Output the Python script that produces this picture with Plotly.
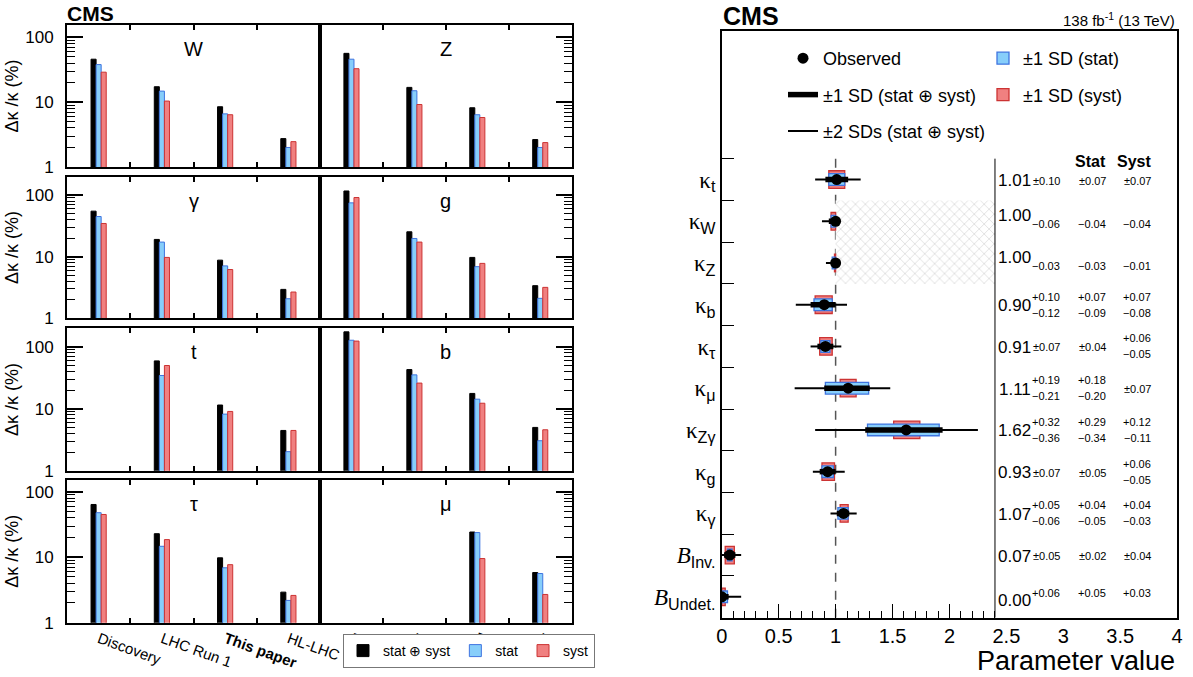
import plotly.graph_objects as go

FIG_W, FIG_H = 1193, 677
FONT = "Liberation Sans"

# ---------------- left figure: precision of coupling modifiers (%) ----------------
ERAS = ["Discovery", "LHC Run 1", "<b>This paper</b>", "HL-LHC"]
PANELS = ["W", "Z", "γ", "g", "t", "b", "τ", "μ"]

W_tot = [46.0, 17.3, 8.5, 2.74]
W_stat = [38.0, 14.8, 6.6, 2.00]
W_syst = [29.0, 10.4, 6.4, 2.46]
Z_tot = [56.6, 16.9, 8.2, 2.65]
Z_stat = [46.0, 15.0, 6.4, 2.00]
Z_syst = [32.8, 9.2, 5.8, 2.38]
gam_tot = [55.0, 19.1, 8.8, 2.95]
gam_stat = [45.0, 17.3, 7.1, 2.08]
gam_syst = [34.7, 9.75, 6.2, 2.67]
g_tot = [117.0, 25.4, 9.75, 3.39]
g_stat = [75.0, 19.8, 6.9, 2.11]
g_syst = [91.6, 17.3, 7.8, 3.18]
t_tot = [None, 59.4, 11.5, 4.47]
t_stat = [None, 34.5, 8.2, 2.03]
t_syst = [None, 50.0, 9.06, 4.47]
b_tot = [175.0, 43.0, 17.7, 5.0]
b_stat = [128.0, 35.3, 14.3, 3.05]
b_syst = [124.0, 26.0, 12.3, 4.58]
tau_tot = [64.0, 22.9, 9.8, 2.93]
tau_stat = [47.9, 14.7, 6.9, 2.19]
tau_syst = [45.0, 18.6, 7.7, 2.61]
mu_tot = [None, None, 24.3, 5.84]
mu_stat = [None, None, 23.8, 5.64]
mu_syst = [None, None, 9.55, 2.70]

PANEL_SERIES = [
    (W_tot, W_stat, W_syst), (Z_tot, Z_stat, Z_syst),
    (gam_tot, gam_stat, gam_syst), (g_tot, g_stat, g_syst),
    (t_tot, t_stat, t_syst), (b_tot, b_stat, b_syst),
    (tau_tot, tau_stat, tau_syst), (mu_tot, mu_stat, mu_syst),
]

# ---------------- right figure: fitted parameters ----------------
KAPPA = '<span style="font-family:Liberation Serif">κ</span>'
BSYM = '<span style="font-family:Liberation Serif"><i>B</i></span>'
ROW_LABELS = [
    KAPPA + "<sub>t</sub>", KAPPA + "<sub>W</sub>", KAPPA + "<sub>Z</sub>",
    KAPPA + "<sub>b</sub>", KAPPA + "<sub>τ</sub>", KAPPA + "<sub>μ</sub>",
    KAPPA + "<sub>Zγ</sub>", KAPPA + "<sub>g</sub>", KAPPA + "<sub>γ</sub>",
    BSYM + "<sub>Inv.</sub>", BSYM + "<sub>Undet.</sub>",
]
VALUE = [1.01, 1.00, 1.00, 0.90, 0.91, 1.11, 1.62, 0.93, 1.07, 0.07, 0.00]
TOT_HI = [0.10, None, None, 0.10, 0.07, 0.19, 0.32, 0.07, 0.05, 0.05, 0.06]
TOT_LO = [0.10, 0.06, 0.03, 0.12, 0.07, 0.21, 0.36, 0.07, 0.06, 0.05, None]
STAT_HI = [0.07, None, None, 0.07, 0.04, 0.18, 0.29, 0.05, 0.04, 0.02, 0.05]
STAT_LO = [0.07, 0.04, 0.03, 0.09, 0.04, 0.20, 0.34, 0.05, 0.05, 0.02, None]
SYST_HI = [0.07, None, None, 0.07, 0.06, 0.07, 0.12, 0.06, 0.04, 0.04, 0.03]
SYST_LO = [0.07, 0.04, 0.01, 0.08, 0.05, 0.07, 0.11, 0.05, 0.03, 0.04, None]
TOT2_HI = [0.21, None, None, 0.20, 0.14, 0.37, 0.63, 0.15, 0.115, 0.10, 0.17]
TOT2_LO = [0.19, 0.12, 0.085, 0.25, 0.13, 0.47, 0.80, 0.13, 0.115, 0.07, None]
SM_VALUE = 1.0
CONSTRAINED_ROWS = [1, 2]      # kappa_W, kappa_Z bounded at 1
TABLE_EDGE = 2.4               # where the numeric table starts
X_TICKS = [0, 0.5, 1, 1.5, 2, 2.5, 3, 3.5, 4]


def px_x(p):
    return p / FIG_W


def px_y(p):
    return 1 - p / FIG_H


def z(v):
    return 0.0 if v is None else v


fig = go.Figure()
layout = {}

LEFT_COLS = [(67, 320), (320, 571.7)]
LEFT_ROWS = [(25, 167), (176.7, 318.3), (328.3, 470.7), (480, 622.7)]
ROW_TOP = [2.19, 2.30, 2.30, 2.18]
GROUP_PX = (LEFT_COLS[0][1] - LEFT_COLS[0][0]) / len(ERAS)

KINDS = [
    ("stat ⊕ syst", "#000000", "#000000", -0.12),
    ("stat", "#87cefa", "#3f74e0", -0.04),
    ("syst", "#f08080", "#cc3333", 0.04),
]

for i, (pname, series) in enumerate(zip(PANELS, PANEL_SERIES)):
    r, c = divmod(i, 2)
    k = "" if i == 0 else str(i + 1)
    xa, ya = "x" + k, "y" + k
    for (kname, fill, line, off), vals in zip(KINDS, series):
        fig.add_trace(go.Bar(
            x=list(range(len(ERAS))), y=vals, offset=off, width=0.08,
            marker=dict(color=fill, line=dict(color=line, width=1)),
            name=kname, legendgroup=kname, showlegend=(i == 0), legend="legend",
            xaxis=xa, yaxis=ya, hoverinfo="skip",
        ))
    bottom = (r == 3)
    layout["xaxis" + k] = dict(
        domain=[px_x(LEFT_COLS[c][0]), px_x(LEFT_COLS[c][1])],
        anchor=ya, range=[-0.5, len(ERAS) - 0.5],
        # ticks sit on the group boundaries; labels shifted to the group centres
        tickvals=[j - 0.5 for j in range(len(ERAS))], ticktext=ERAS,
        ticks="inside", ticklen=5, tickwidth=1.5, tickcolor="black",
        ticklabelshift=int(round(GROUP_PX / 2)),
        showticklabels=bottom, tickangle=20,
        tickfont=dict(size=15, family=FONT, color="black"),
        showline=True, linewidth=2, linecolor="black", mirror="ticks",
        showgrid=False, zeroline=False,
    )
    yax = dict(
        domain=[px_y(LEFT_ROWS[r][1]), px_y(LEFT_ROWS[r][0])],
        anchor=xa, type="log", range=[0, ROW_TOP[r]],
        tick0=0, dtick=1, ticks="inside", ticklen=16, tickwidth=1.5, tickcolor="black",
        minor=dict(ticks="inside", ticklen=8, tickwidth=1, tickcolor="black",
                   dtick="D1", showgrid=False),
        side="left" if c == 0 else "right",
        showticklabels=(c == 0), ticklabelstandoff=8,
        tickfont=dict(size=17, family=FONT, color="black"),
        showline=True, linewidth=2, linecolor="black", mirror=True,
        showgrid=False, zeroline=False,
    )
    if c == 0:
        yax["title"] = dict(text="Δκ /κ (%)", standoff=2,
                            font=dict(size=18, family=FONT, color="black"))
    layout["yaxis" + k] = yax
    layout.setdefault("annotations", []).append(dict(
        text=pname, xref=xa + " domain", yref=ya + " domain", x=0.5, y=1,
        yshift=-24, xanchor="center", yanchor="middle", showarrow=False,
        font=dict(size=20, family=FONT, color="black"),
    ))

# ---------------- right figure traces ----------------
N = len(VALUE)
ys = [N - 0.5 - i for i in range(N)]
XR, YR = "x9", "y9"

cy = sum(ys[j] for j in CONSTRAINED_ROWS) / len(CONSTRAINED_ROWS)
fig.add_trace(go.Bar(
    orientation="h", y=[cy], base=[SM_VALUE], x=[TABLE_EDGE - SM_VALUE],
    width=[len(CONSTRAINED_ROWS)],
    marker=dict(color="white", line=dict(width=0),
                pattern=dict(shape="x", fgcolor="#a8a8a8", bgcolor="white",
                             size=7, solidity=0.18)),
    showlegend=False, hoverinfo="skip", xaxis=XR, yaxis=YR,
))

fig.add_trace(go.Bar(
    orientation="h", y=ys,
    base=[v - z(lo) for v, lo in zip(VALUE, SYST_LO)],
    x=[z(lo) + z(hi) for lo, hi in zip(SYST_LO, SYST_HI)],
    width=0.42,
    marker=dict(color="#f08080", line=dict(color="#cc3333", width=1.3)),
    name="±1 SD (syst)", legend="legend3", legendgroup="syst1", legendrank=2,
    hoverinfo="skip", xaxis=XR, yaxis=YR,
))
fig.add_trace(go.Bar(
    orientation="h", y=ys,
    base=[v - z(lo) for v, lo in zip(VALUE, STAT_LO)],
    x=[z(lo) + z(hi) for lo, hi in zip(STAT_LO, STAT_HI)],
    width=0.28,
    marker=dict(color="#87cefa", line=dict(color="#3f74e0", width=1.3)),
    name="±1 SD (stat)", legend="legend3", legendgroup="stat1", legendrank=1,
    hoverinfo="skip", xaxis=XR, yaxis=YR,
))


def segs(lo_list, hi_list):
    xs, yy = [], []
    for v, lo, hi, y in zip(VALUE, lo_list, hi_list, ys):
        xs += [v - z(lo), v + z(hi), None]
        yy += [y, y, None]
    return xs, yy


x2, y2 = segs(TOT2_LO, TOT2_HI)
fig.add_trace(go.Scatter(
    x=x2, y=y2, mode="lines", line=dict(color="black", width=2),
    name="±2 SDs (stat ⊕ syst)", legend="legend2", legendgroup="tot2", legendrank=3,
    hoverinfo="skip", xaxis=XR, yaxis=YR,
))
x1, y1 = segs(TOT_LO, TOT_HI)
fig.add_trace(go.Scatter(
    x=x1, y=y1, mode="lines", line=dict(color="black", width=5.5),
    name="±1 SD (stat ⊕ syst)", legend="legend2", legendgroup="tot1", legendrank=2,
    hoverinfo="skip", xaxis=XR, yaxis=YR,
))
fig.add_trace(go.Scatter(
    x=VALUE, y=ys, mode="markers", marker=dict(color="black", size=11),
    name="Observed", legend="legend2", legendgroup="obs", legendrank=1,
    hoverinfo="skip", xaxis=XR, yaxis=YR,
))
# carrier for the long-tick overlay axis
fig.add_trace(go.Scatter(x=[None], y=[None], xaxis="x10", yaxis=YR,
                         showlegend=False, hoverinfo="skip"))

RX = [px_x(721.8), px_x(1177.1)]
RY = [px_y(617.7), px_y(31)]
YTOP = (617.7 - 31) / 41.73

layout["xaxis9"] = dict(
    domain=RX, anchor=YR, range=[0, 4],
    tickvals=X_TICKS, ticktext=[f"{t:g}" for t in X_TICKS], ticks="",
    tickfont=dict(size=20, family=FONT, color="black"),
    minor=dict(tickvals=[round(0.1 * j, 1) for j in range(int(TABLE_EDGE * 10) + 1)],
               ticks="inside", ticklen=7, tickwidth=1, tickcolor="black", showgrid=False),
    showline=True, linewidth=1.5, linecolor="black", mirror=True,
    showgrid=False, zeroline=False,
)
layout["xaxis10"] = dict(
    overlaying="x9", anchor=YR, range=[0, 4],
    tickvals=[t for t in X_TICKS if 0 < t < TABLE_EDGE], ticks="inside", ticklen=14,
    tickwidth=1, tickcolor="black", showticklabels=False,
    showline=False, showgrid=False, zeroline=False,
)
layout["yaxis9"] = dict(
    domain=RY, anchor=XR, range=[0, YTOP],
    tickvals=ys, ticktext=ROW_LABELS, ticks="",
    tickfont=dict(size=23, family=FONT, color="black"),
    minor=dict(tickvals=list(range(1, N + 1)), ticks="inside",
               ticklen=12, tickwidth=1, tickcolor="black", showgrid=False),
    showline=True, linewidth=1.5, linecolor="black", mirror=True,
    showgrid=False, zeroline=False,
)

shapes = [
    dict(type="line", xref=XR, yref=YR, x0=SM_VALUE, x1=SM_VALUE, y0=0, y1=N,
         line=dict(color="#555555", width=1.5, dash="dash"), layer="below"),
    dict(type="line", xref=XR, yref=YR, x0=TABLE_EDGE, x1=TABLE_EDGE, y0=0, y1=N,
         line=dict(color="black", width=1), layer="above"),
]

ann = layout["annotations"]
BIG_X, SMALL_X, STAT_X, SYST_X = 2.73, 2.985, 3.397, 3.791


def err_texts(hi, lo):
    if hi is not None and lo is not None and abs(hi - lo) < 1e-9:
        return [(f"±{hi:.2f}", -1)]
    out = []
    if hi is not None:
        out.append((f"+{hi:.2f}", 8 if lo is not None else 4))
    if lo is not None:
        out.append((f"−{lo:.2f}", -8 if hi is not None else -3))
    return out


for v, y, th, tl, sh, sl, yh, yl in zip(VALUE, ys, TOT_HI, TOT_LO, STAT_HI, STAT_LO,
                                        SYST_HI, SYST_LO):
    big_shift = 6 if th is None else (-4 if tl is None else -1)
    ann.append(dict(text=f"{v:.2f}", xref=XR, yref=YR, x=BIG_X, y=y, yshift=big_shift,
                    xanchor="right", yanchor="middle", showarrow=False,
                    font=dict(size=17, family=FONT, color="black")))
    for xpos, (hi, lo) in ((SMALL_X, (th, tl)), (STAT_X, (sh, sl)), (SYST_X, (yh, yl))):
        for txt, sft in err_texts(hi, lo):
            ann.append(dict(text=txt, xref=XR, yref=YR, x=xpos, y=y, yshift=sft,
                            xanchor="right", yanchor="middle", showarrow=False,
                            font=dict(size=11, family=FONT, color="black")))

for txt, xpos in (("Stat", STAT_X), ("Syst", SYST_X)):
    ann.append(dict(text=f"<b>{txt}</b>", xref=XR, yref=YR, x=xpos, y=N, yshift=-3,
                    xanchor="right", yanchor="middle", showarrow=False,
                    font=dict(size=16, family=FONT, color="black")))

ann += [
    dict(text="<b>CMS</b>", xref="paper", yref="paper", x=px_x(65), y=px_y(13),
         xanchor="left", yanchor="middle", showarrow=False,
         font=dict(size=21, family=FONT, color="black")),
    dict(text="<b>CMS</b>", xref="paper", yref="paper", x=px_x(721), y=px_y(16),
         xanchor="left", yanchor="middle", showarrow=False,
         font=dict(size=25, family=FONT, color="black")),
    dict(text="138 fb<sup>-1</sup> (13 TeV)", xref="paper", yref="paper",
         x=px_x(1177), y=px_y(20), xanchor="right", yanchor="middle", showarrow=False,
         font=dict(size=15, family=FONT, color="black")),
    dict(text="Parameter value", xref="x9 domain", yref="paper", x=1, y=px_y(661),
         xanchor="right", yanchor="middle", showarrow=False,
         font=dict(size=27, family=FONT, color="black")),
]

layout.update(
    width=FIG_W, height=FIG_H, margin=dict(l=0, r=0, t=0, b=0, autoexpand=False),
    paper_bgcolor="white", plot_bgcolor="white", barmode="overlay",
    font=dict(family=FONT, color="black"), hovermode=False,
    shapes=shapes,
    legend=dict(orientation="h", x=px_x(343), xanchor="left", y=px_y(634),
                yanchor="top", bordercolor="#777777", borderwidth=1, bgcolor="white",
                font=dict(size=14, family=FONT, color="black"), itemwidth=30),
    legend2=dict(x=px_x(783), xanchor="left", y=px_y(40), yanchor="top",
                 bgcolor="rgba(0,0,0,0)", tracegroupgap=10,
                 font=dict(size=18, family=FONT, color="black")),
    legend3=dict(x=px_x(983), xanchor="left", y=px_y(40), yanchor="top",
                 bgcolor="rgba(0,0,0,0)", tracegroupgap=10,
                 font=dict(size=18, family=FONT, color="black")),
)
fig.update_layout(layout)
fig.write_html("out.html", config={"displayModeBar": False},
               post_script="document.body.style.margin='0';")
